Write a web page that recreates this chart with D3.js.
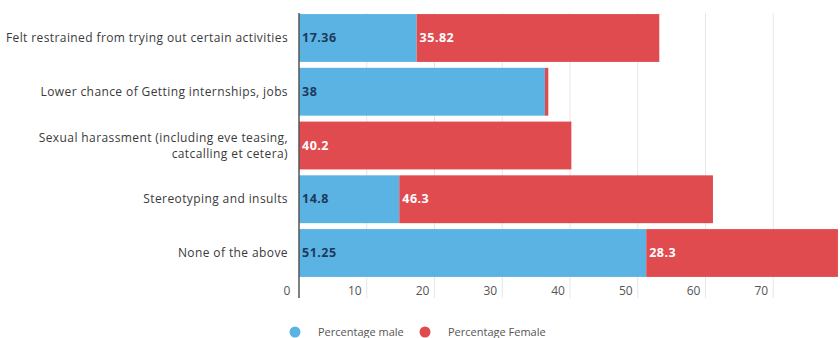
<!DOCTYPE html>
<html>
<head>
<meta charset="utf-8">
<script src="https://cdn.jsdelivr.net/npm/d3@7"></script>
<style>
  html, body { margin: 0; padding: 0; background: #fff; }
  svg { display: block; font-family: "Open Sans", Roboto, sans-serif; }
</style>
</head>
<body>
<svg id="chart" width="840" height="338"></svg>
<script>
const categories = [
  ["Felt restrained from trying out certain activities"],
  ["Lower chance of Getting internships, jobs"],
  ["Sexual harassment (including eve teasing,", "catcalling et cetera)"],
  ["Stereotyping and insults"],
  ["None of the above"]
];
const maleValues = [17.36, 36.3, 0, 14.8, 51.25];
const femaleValues = [35.82, 0.5, 40.2, 46.3, 28.3];
const maleLabels = ["17.36", "38", "", "14.8", "51.25"];
const femaleLabels = ["35.82", "", "40.2", "46.3", "28.3"];
const tickValues = [0, 10, 20, 30, 40, 50, 60, 70];
const gridValues = [10, 20, 30, 40, 50, 60, 70, 80];
const seriesNames = ["Percentage male", "Percentage Female"];
const colors = ["#5bb3e4", "#e04b50"];

const svg = d3.select("#chart");
const idx = d3.range(categories.length);

const x = d3.scaleLinear().domain([0, 80]).range([299, 841]);
const y = d3.scaleBand().domain(idx).range([13, 278]).paddingInner(0.11).paddingOuter(0.02);

// gridlines
svg.append("g").selectAll("line").data(gridValues).join("line")
  .attr("x1", d => x(d)).attr("x2", d => x(d))
  .attr("y1", 13).attr("y2", 298)
  .attr("stroke", "#e6e6e6").attr("stroke-width", 1);

// bars
const rows = svg.append("g").selectAll("g").data(idx).join("g");
rows.append("rect")
  .attr("x", x(0))
  .attr("y", i => y(i))
  .attr("width", i => x(maleValues[i]) - x(0))
  .attr("height", y.bandwidth())
  .attr("fill", colors[0]);
rows.append("rect")
  .attr("x", i => x(maleValues[i]))
  .attr("y", i => y(i))
  .attr("width", i => x(maleValues[i] + femaleValues[i]) - x(maleValues[i]))
  .attr("height", y.bandwidth())
  .attr("fill", colors[1]);

// value labels
rows.append("text")
  .attr("x", x(0) + 3)
  .attr("y", i => y(i) + y.bandwidth() / 2 + 4)
  .attr("font-size", 12.5).attr("font-weight", "bold")
  .attr("letter-spacing", 0.5)
  .attr("fill", "#1d3a5a")
  .text(i => maleLabels[i]);
rows.append("text")
  .attr("x", i => x(maleValues[i]) + 3)
  .attr("y", i => y(i) + y.bandwidth() / 2 + 4)
  .attr("font-size", 12.5).attr("font-weight", "bold")
  .attr("letter-spacing", 0.5)
  .attr("fill", "#ffffff")
  .text(i => femaleLabels[i]);

// category labels
rows.append("text")
  .attr("text-anchor", "end")
  .attr("font-size", 12)
  .attr("letter-spacing", 0.4)
  .attr("fill", "#3a3a3a")
  .each(function(i) {
    const lines = categories[i];
    const cy = y(i) + y.bandwidth() / 2;
    const lh = 16;
    const t = d3.select(this);
    lines.forEach((ln, k) => {
      t.append("tspan")
        .attr("x", 288)
        .attr("y", cy + 4 + (k - (lines.length - 1) / 2) * lh)
        .text(ln);
    });
  });

// axis line
svg.append("line")
  .attr("x1", x(0)).attr("x2", x(0))
  .attr("y1", 13).attr("y2", 298)
  .attr("stroke", "#555").attr("stroke-width", 1.5);

// tick labels
svg.append("g").selectAll("text").data(tickValues).join("text")
  .attr("x", d => x(d) - 12)
  .attr("y", 295)
  .attr("text-anchor", "middle")
  .attr("font-size", 12)
  .attr("fill", "#555")
  .text(d => d);

// legend
const legendX = [295, 425];
const lg = svg.append("g").selectAll("g").data(seriesNames).join("g")
  .attr("transform", (d, i) => `translate(${legendX[i]},332)`);
lg.append("circle").attr("r", 5.5).attr("fill", (d, i) => colors[i]);
lg.append("text").attr("x", 23).attr("y", 3.5)
  .attr("font-size", 11).attr("fill", "#555")
  .text(d => d);
</script>
</body>
</html>
